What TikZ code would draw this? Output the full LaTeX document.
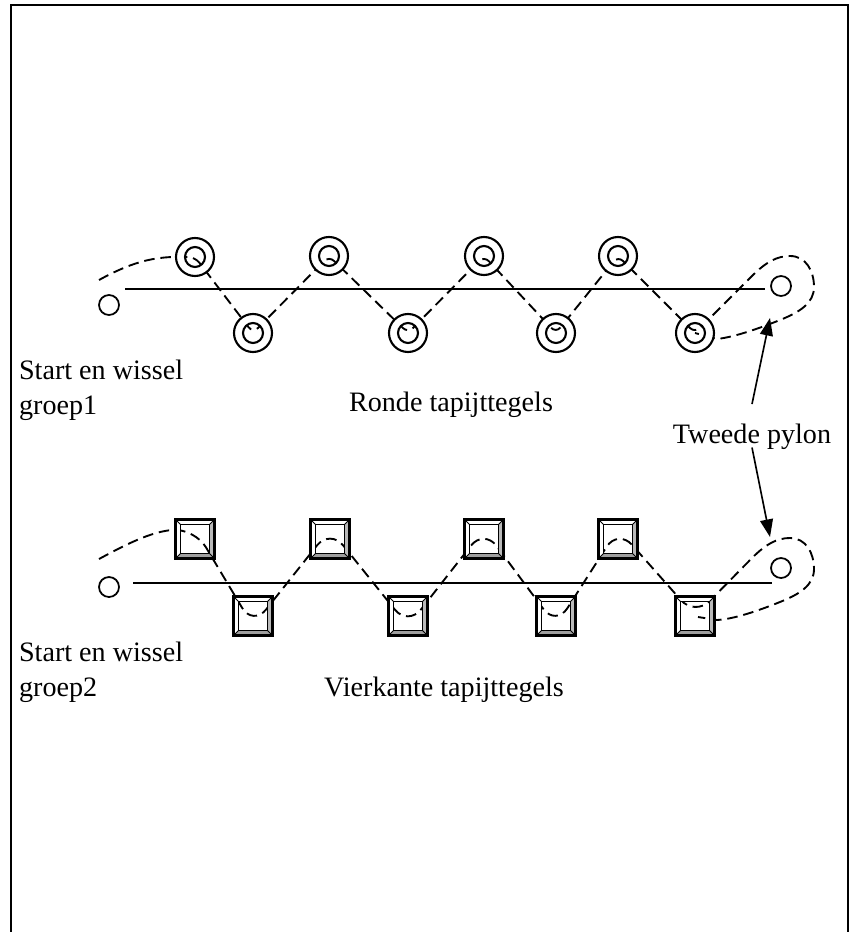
\documentclass[tikz,border=0pt]{standalone}
\usepackage{fontspec}
\setmainfont{Liberation Serif}
\usetikzlibrary{arrows.meta}
\tikzset{
	tekst/.style={font=\fontsize{24}{30}\selectfont, inner sep=2pt},
	lijn/.style={line width=1.5pt},
	spoor/.style={line width=1.6pt, dash pattern=on 9pt off 5pt},
	pylon/.style={line width=1.5pt},
	ronde tegel/.pic={
		\draw[line width=1.8pt, fill=white, even odd rule] (0,0) circle (19) (0,0) circle (10);
	},
	vierkante tegel/.pic={
		\fill[white] (-19.5,-19.5) -- (19.5,-19.5) -- (14.5,-14.5) -- (-14.5,-14.5) -- (-14.5,14.5) -- (-19.5,19.5) -- cycle;
		\fill[gray!55] (19.5,-19.5) -- (19.5,19.5) -- (14.5,14.5) -- (14.5,-14.5) -- cycle;
		\fill[gray!75] (-19.5,19.5) -- (19.5,19.5) -- (14.5,14.5) -- (-14.5,14.5) -- cycle;
		\draw[line width=0.7pt] (-19.5,-19.5) -- (-14.5,-14.5) (19.5,-19.5) -- (14.5,-14.5)
			(19.5,19.5) -- (14.5,14.5) (-19.5,19.5) -- (-14.5,14.5);
		\draw[line width=1.5pt] (-14.5,-14.5) rectangle (14.5,14.5);
		\draw[line width=1.8pt] (-19.5,-19.5) rectangle (19.5,19.5);
	}
}

\begin{document}
\begin{tikzpicture}[x=0.03cm,y=-0.03cm,>={Triangle[length=15pt,width=11pt]}]
	\useasboundingbox (0,0) rectangle (852,932);
	\draw[line width=1.8pt] (11,940) -- (11,5) -- (848,5) -- (848,940);

	% ronde tegels
	\foreach \x/\y [count=\i] in {195/257,253/333,329/256,408/333,484/256,556/333,618/256,695/333}
		\coordinate (r\i) at (\x,\y);
	\coordinate (l1a) at (125,289);
	\coordinate (l1b) at (765,289);
	\draw[lijn] (l1a) -- (l1b);
	\draw[spoor] (99,280) .. controls (130,263) and (150,258) .. (172,257)
		[rounded corners=6pt] -- (r1) -- (r2) -- (r3) -- (r4) -- (r5) -- (r6) -- (r7) -- (r8)
		[sharp corners] -- (752,276)
		.. controls (766,262) and (777,256) .. (790,256)
		.. controls (806,256) and (814,271) .. (814,287)
		.. controls (814,303) and (800,312) .. (780,320)
		.. controls (760,328) and (735,337) .. (717,339) -- (r8);
	\foreach \i in {1,...,8}
		\pic at (r\i) {ronde tegel};
	\draw[pylon] (109,305) circle (10);
	\draw[pylon] (781,286) circle (10);

	% vierkante tegels
	\foreach \x/\y [count=\i] in {195/539,253/616,330/539,408/616,484/539,556/616,618/539,695/616}
		\coordinate (v\i) at (\x,\y);
	\foreach \x/\y [count=\i] in {195/529,253/626,330/529,408/626,484/529,556/626,618/529}
		\coordinate (w\i) at (\x,\y);
	\coordinate (l2a) at (133,583);
	\coordinate (l2b) at (772,583);
	\draw[lijn] (l2a) -- (l2b);
	\draw[spoor] (99,559) .. controls (125,545) and (150,532) .. (172,530)
		[rounded corners=18pt] -- (w1) -- (w2) -- (w3) -- (w4) -- (w5) -- (w6) -- (w7) -- (v8)
		[sharp corners] -- (752,558)
		.. controls (766,544) and (777,538) .. (790,538)
		.. controls (806,538) and (814,553) .. (814,569)
		.. controls (814,585) and (800,594) .. (780,602)
		.. controls (760,610) and (735,619) .. (717,620) -- (698,617);
	\foreach \i in {1,...,8}
		\pic at (v\i) {vierkante tegel};
	\draw[pylon] (109,587) circle (10);
	\draw[pylon] (781,568) circle (10);

	\node[tekst, anchor=west, align=left] (start1) at (16.5,390) {Start en wissel\\groep1};
	\node[tekst, anchor=west, align=left] (start2) at (16.5,672) {Start en wissel\\groep2};
	\node[tekst] (ronde) at (451,405) {Ronde tapijttegels};
	\node[tekst] (vierkante) at (444,690) {Vierkante tapijttegels};
	\node[tekst] (tweede) at (752,437) {Tweede pylon};

	\coordinate (pijl1) at (770,318);
	\coordinate (pijl2) at (770,537);
	\draw[->, line width=1.4pt] ([yshift=15pt]tweede.north) -- (pijl1);
	\draw[->, line width=1.4pt] ([yshift=-9pt]tweede.center) -- (pijl2);
\end{tikzpicture}
\end{document}
